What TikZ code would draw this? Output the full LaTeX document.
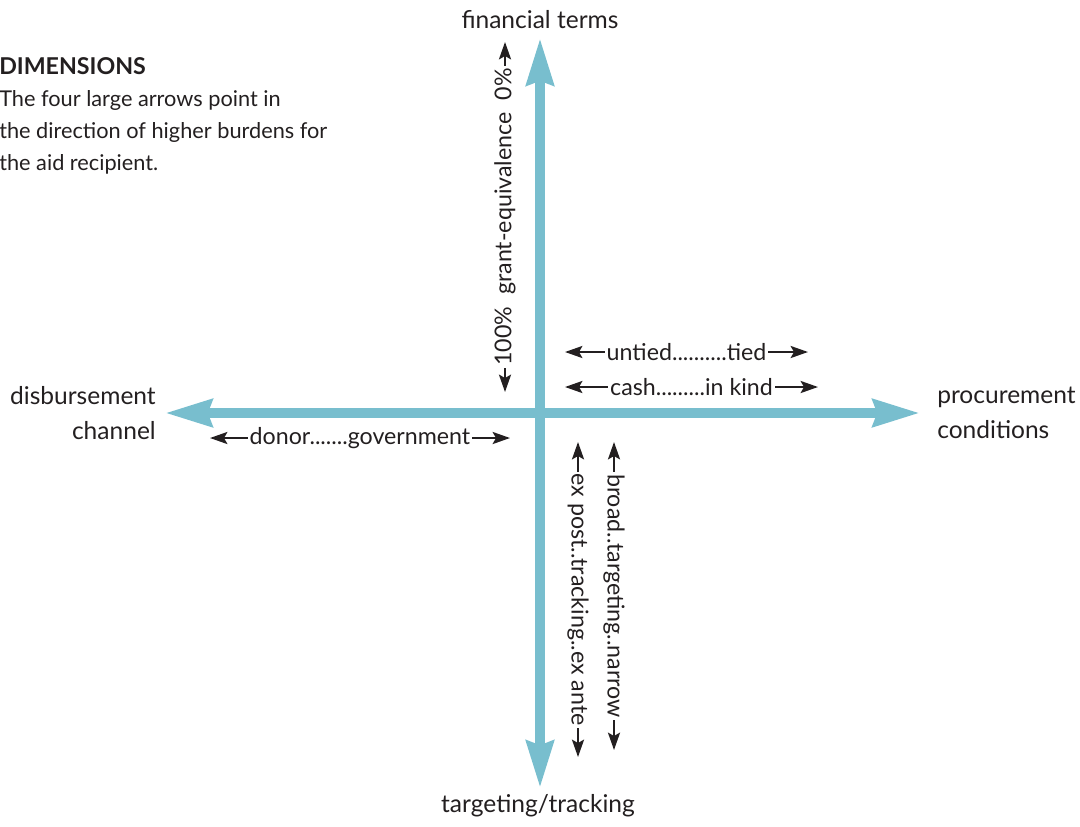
\documentclass[tikz,border=0pt]{standalone}
\usepackage{fontspec}
\setmainfont{Lato}
\usetikzlibrary{arrows.meta}

\definecolor{axisblue}{RGB}{120,190,206}
\definecolor{inkgray}{RGB}{35,31,32}

\tikzset{
  axisline/.style={draw=axisblue, line width=7.5pt,
    {Stealth[length=35pt,width=20pt,inset=3pt]}-{Stealth[length=35pt,width=20pt,inset=3pt]}},
  scaleline/.style={draw=inkgray, line width=1.8pt,
    {Stealth[length=13pt,width=9pt,inset=2.5pt]}-{Stealth[length=13pt,width=9pt,inset=2.5pt]}},
  scalelabel/.style={fill=white, text=inkgray, inner xsep=1.5pt, inner ysep=1pt,
    font=\fontsize{17.4}{20}\selectfont},
  axislabel/.style={text=inkgray, inner sep=0pt, font=\fontsize{18.4}{26}\selectfont},
}

\begin{document}
\begin{tikzpicture}[x=0.75pt,y=-0.75pt]
        \useasboundingbox (0,0) rectangle (1080,826);

        % Coordinates
        \coordinate (top) at (540,38);
        \coordinate (bottom) at (540,788);
        \coordinate (left) at (165,413);
        \coordinate (right) at (920,413);
        \coordinate (grantB) at (505,392);
        \coordinate (grantT) at (505,42);
        \coordinate (untiedL) at (565,352);
        \coordinate (untiedR) at (808,352);
        \coordinate (cashL) at (565,387);
        \coordinate (cashR) at (818,387);
        \coordinate (donorL) at (210,438);
        \coordinate (donorR) at (510,438);
        \coordinate (trackT) at (578,442);
        \coordinate (trackB) at (578,757);
        \coordinate (targetT) at (614,442);
        \coordinate (targetB) at (614,750);

        % Labels
        \node[axislabel] (financial) at (540,20) {financial terms};
        \node[axislabel] (targeting) at (538,806) {targeting/tracking};
        \node[axislabel, anchor=east, align=right] (channel) at (156,413) {disbursement\\channel};
        \node[axislabel, anchor=west, align=left] (conditions) at (937,413) {procurement\\conditions};
        \node[anchor=north west, inner sep=0pt, align=left, text=inkgray,
              font=\fontsize{16.3}{24}\selectfont] (note) at (-1,57)
              {{\fontsize{17.4}{24}\selectfont\bfseries DIMENSIONS}\\The four large arrows point in\\the direction of higher burdens for\\the aid recipient.};

        % Drawing
        \draw[axisline] (bottom) -- (top);
        \draw[axisline] (left) -- (right);
        \draw[scaleline] (grantB) -- node[scalelabel, rotate=90] {100\%\ \ grant-equivalence\ \ 0\%} (grantT);
        \draw[scaleline] (untiedL) -- node[scalelabel] {untied..........tied} (untiedR);
        \draw[scaleline] (cashL) -- node[scalelabel] {cash.........in kind} (cashR);
        \draw[scaleline] (donorL) -- node[scalelabel] {donor.......government} (donorR);
        \draw[scaleline] (trackT) -- node[scalelabel, rotate=-90] {ex post..tracking..ex ante} (trackB);
        \draw[scaleline] (targetT) -- node[scalelabel, rotate=-90] {broad..targeting..narrow} (targetB);
\end{tikzpicture}
\end{document}
